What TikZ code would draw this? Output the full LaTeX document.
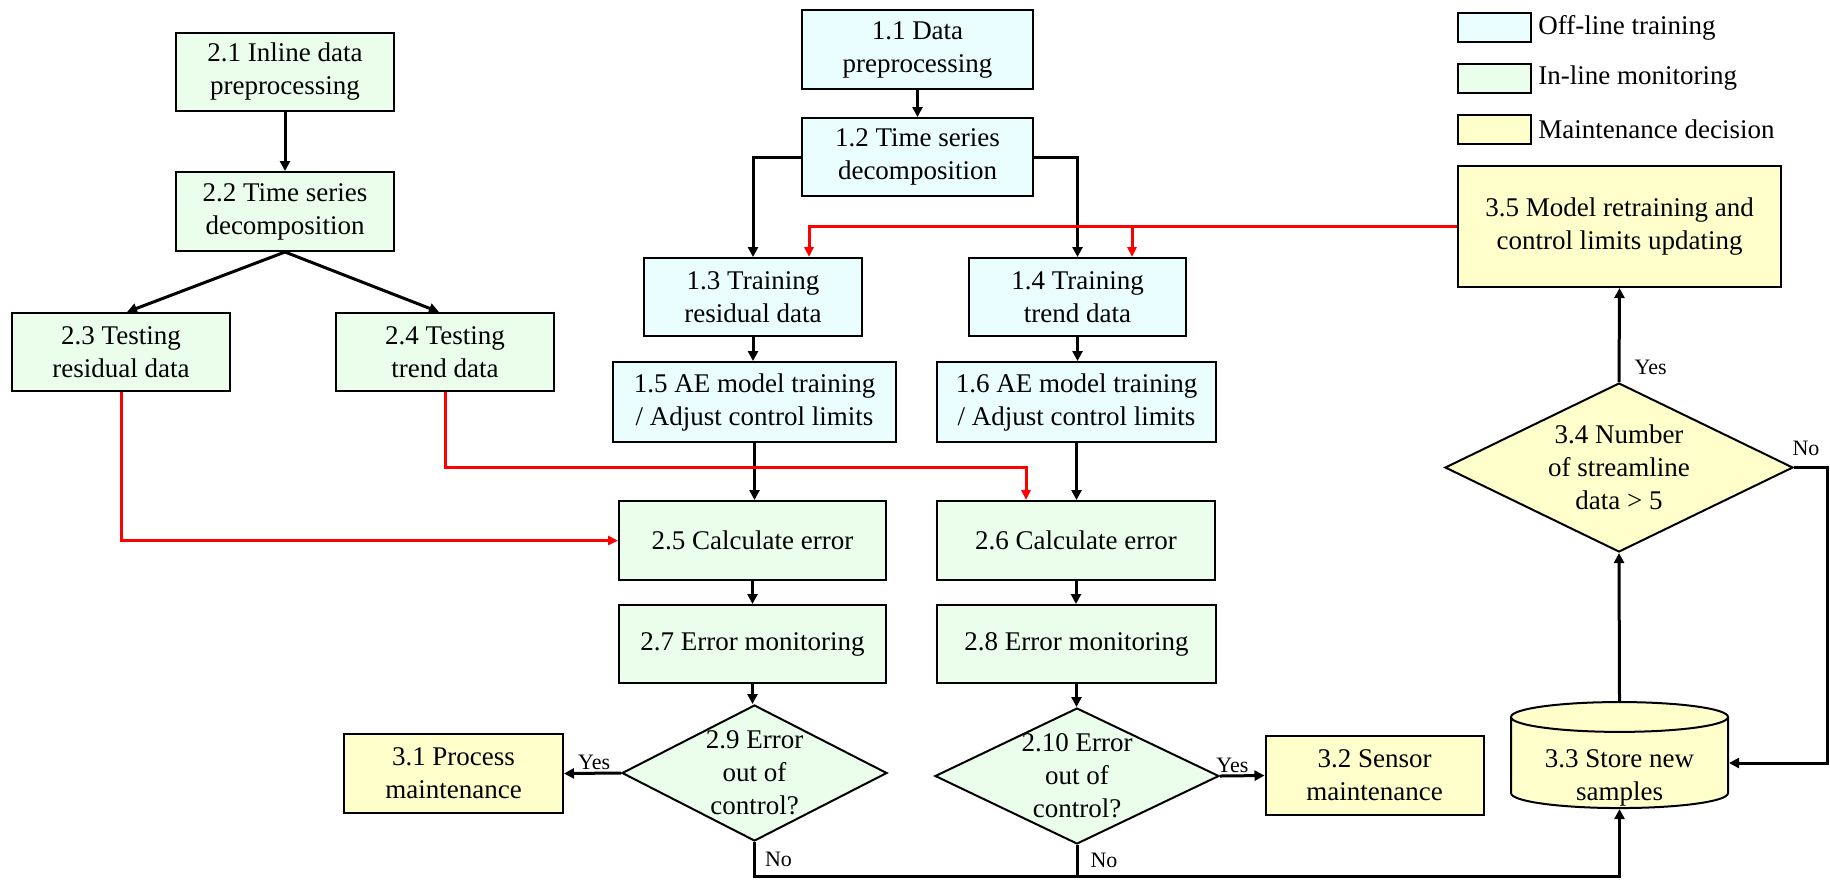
\documentclass[tikz,border=0pt]{standalone}
\usepackage{fontspec}
\setmainfont{Liberation Serif}
\usetikzlibrary{arrows.meta, positioning, shapes.geometric}

\definecolor{offc}{HTML}{EAFEFF}
\definecolor{inc}{HTML}{EBFEEB}
\definecolor{mtc}{HTML}{FFFFCC}
\newcommand{\mainsize}{\fontsize{13.5}{16.5}\selectfont}
\newcommand{\labsize}{\fontsize{11}{13}\selectfont}

\begin{document}
\begin{tikzpicture}[x=0.5pt, y=-0.5pt,
    box/.style={draw, line width=1pt, align=center, inner sep=0pt, font=\mainsize},
    offbox/.style={box, fill=offc},
    inbox/.style={box, fill=inc},
    mtbox/.style={box, fill=mtc},
    decision/.style={diamond, draw, line width=1pt, align=center, aspect=1.7, inner sep=-3pt, font=\mainsize},
    store/.style={cylinder, shape border rotate=90, aspect=0.2, draw, line width=1pt, align=center, inner sep=0pt, font=\mainsize},
    legbox/.style={draw, line width=1pt, minimum width=36.5pt, minimum height=14.5pt, inner sep=0pt},
    link/.style={line width=1.5pt, -{Triangle[length=5pt, width=5pt]}},
    plain/.style={line width=1.5pt},
    redlink/.style={red, line width=1.5pt, -{Triangle[length=5pt, width=4.5pt]}},
    lab/.style={font=\labsize, inner sep=1pt}]
    \useasboundingbox (0,0) rectangle (1830,880);

    % Off-line training
    \node[offbox, minimum width=115.5pt, minimum height=39.5pt] (p11) at (917.5,49.5) {1.1 Data\\preprocessing};
    \node[offbox, minimum width=115.5pt, minimum height=39pt] (p12) at (917.5,157) {1.2 Time series\\decomposition};
    \node[offbox, minimum width=109pt, minimum height=39pt] (p13) at (753,297) {1.3 Training\\residual data};
    \node[offbox, minimum width=108.5pt, minimum height=39pt] (p14) at (1077.5,297) {1.4 Training\\trend data};
    \node[offbox, minimum width=141.5pt, minimum height=40pt] (p15) at (754.5,402) {1.5 AE model training\\/ Adjust control limits};
    \node[offbox, minimum width=139.5pt, minimum height=40pt] (p16) at (1076.5,402) {1.6 AE model training\\/ Adjust control limits};

    % In-line monitoring
    \node[inbox, minimum width=109pt, minimum height=39pt] (p21) at (285,72) {2.1 Inline data\\preprocessing};
    \node[inbox, minimum width=109pt, minimum height=39.5pt] (p22) at (285,211.5) {2.2 Time series\\decomposition};
    \node[inbox, minimum width=109pt, minimum height=39pt] (p23) at (121,352) {2.3 Testing\\residual data};
    \node[inbox, minimum width=109pt, minimum height=39pt] (p24) at (445,352) {2.4 Testing\\trend data};
    \node[inbox, minimum width=133.5pt, minimum height=39.5pt] (p25) at (752.5,540.5) {2.5 Calculate error};
    \node[inbox, minimum width=139pt, minimum height=39.5pt] (p26) at (1076,540.5) {2.6 Calculate error};
    \node[inbox, minimum width=133.5pt, minimum height=39pt] (p27) at (752.5,644) {2.7 Error monitoring};
    \node[inbox, minimum width=139.5pt, minimum height=39pt] (p28) at (1076.5,644) {2.8 Error monitoring};
    \node[decision, fill=inc, minimum width=132.5pt, minimum height=68pt] (p29) at (754.5,773) {2.9 Error\\out of\\control?};
    \node[decision, fill=inc, minimum width=142pt, minimum height=68pt] (p210) at (1077,776) {2.10 Error\\out of\\control?};

    % Maintenance decision
    \node[mtbox, minimum width=109.5pt, minimum height=39.5pt] (p31) at (453.5,773.5) {3.1 Process\\maintenance};
    \node[mtbox, minimum width=109pt, minimum height=39.5pt] (p32) at (1374.5,775.5) {3.2 Sensor\\maintenance};
    \node[store, fill=mtc, minimum width=108.5pt, minimum height=53pt] (p33) at (1619.5,763)
      {\raisebox{-2pt}[0pt][0pt]{\begin{tabular}[t]{@{}c@{}}3.3 Store new\\samples\end{tabular}}};
    \node[decision, fill=mtc, minimum width=174pt, minimum height=84.5pt] (p34) at (1619,467.5) {3.4 Number\\of streamline\\data > 5};
    \node[mtbox, minimum width=161.5pt, minimum height=60.5pt] (p35) at (1619.5,226.5) {3.5 Model retraining and\\control limits updating};

    % Legend
    \foreach \n/\c/\t [count=\i] in {off/offc/Off-line training, in/inc/In-line monitoring, mt/mtc/Maintenance decision} {
      \node[legbox, fill=\c] (lg\n) at (1494.5,-23.5+51*\i) {};
      \node[right=2pt of lg\n, font=\mainsize, inner sep=1pt] (lgt\n) {\t};
    }

    % Straight flow
    \foreach \a/\b in {p11/p12, p21/p22, p13/p15, p14/p16, p15/p25, p16/p26, p25/p27, p26/p28, p27/p29, p28/p210}
      \draw[link] (\a.south) -- (\a.south |- \b.north);
    \draw[link] (p22.south) -- ([xshift=3pt]p23.north);
    \draw[link] (p22.south) -- ([xshift=-3pt]p24.north);
    \draw[link] (p12.west) -| (p13.north);
    \draw[link] (p12.east) -| (p14.north);

    % Decisions
    \draw[link] (p29.west) -- node[lab, above, pos=0.47] {Yes} (p31.east);
    \draw[link] (p210.east) -- node[lab, above, pos=0.28] {Yes} (p32.west);
    \coordinate (nobus) at (1620,876);
    \draw[link] (p29.south) -- node[lab, right, pos=0.5, xshift=3.5pt] {No} (p29.south |- nobus) -| (p33.south);
    \draw[plain] (p210.south) -- node[lab, right, pos=0.5, xshift=5pt] {No} (p210.south |- nobus);
    \draw[link] (p33.north) -- (p34.south);
    \draw[link] (p34.north) -- node[lab, right, pos=0.16, xshift=6pt] {Yes} (p35.south);
    \coordinate (noloop) at (1827,467.5);
    \draw[link] (p34.east) -- node[lab, above right, pos=0, xshift=-2.5pt, yshift=4pt] {No} (noloop) |- (p33.east);

    % Testing data and retraining (red)
    \coordinate (redL) at (809,0);
    \coordinate (redR) at (1132,0);
    \coordinate (redM) at (1026,467);
    \draw[redlink] (p35.west) -| (redL |- p13.north);
    \draw[redlink] (redR |- p35.west) -- (redR |- p14.north);
    \draw[redlink] (p23.south) |- (p25.west);
    \draw[redlink] (p24.south) |- (redM) -- (redM |- p26.north);
\end{tikzpicture}
\end{document}
